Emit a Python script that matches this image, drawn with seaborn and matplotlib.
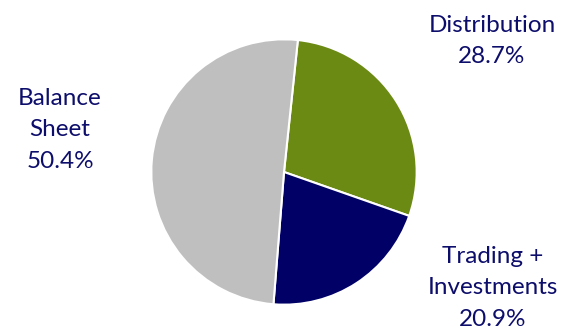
import matplotlib
matplotlib.use("Agg")
import matplotlib.pyplot as plt
import seaborn as sns

sns.set_theme(style="white")
plt.rcParams['font.family'] = ['Lato', 'DejaVu Sans']

categories = ["Distribution", "Trading +\nInvestments", "Balance\nSheet"]
values = [28.7, 20.9, 50.4]
colors = ["#6B8A14", "#000066", "#BFBFBF"]
label_pos = [(492, 41), (493, 288), (60, 130)]  # pixel centers

W, H = 562, 332
fig = plt.figure(figsize=(W / 100, H / 100), dpi=100)
cx, cy, r = 284, 172, 134
ax = fig.add_axes([(cx - r) / W, (H - cy - r) / H, 2 * r / W, 2 * r / H])
ax.pie(values, colors=colors, startangle=84, counterclock=False,
       wedgeprops=dict(edgecolor="white", linewidth=1.5), radius=1)
ax.set_xlim(-1.01, 1.01)
ax.set_ylim(-1.01, 1.01)
ax.set_aspect("equal")
ax.axis("off")

for cat, val, (px, py) in zip(categories, values, label_pos):
    fig.text(px / W, 1 - py / H, f"{cat}\n{val:.1f}%", ha="center", va="center",
             fontsize=17.5, color="#0D0D6B", linespacing=1.6)

fig.savefig("out.png", dpi=100)
